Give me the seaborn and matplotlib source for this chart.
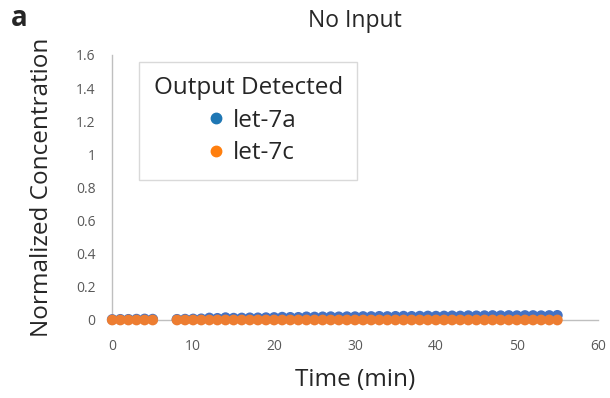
import matplotlib
matplotlib.use("Agg")
import matplotlib.pyplot as plt
from matplotlib.lines import Line2D
import seaborn as sns
import pandas as pd

time_min = [0, 1, 2, 3, 4, 5] + list(range(8, 56))
let7a = [0.003, 0.004, 0.004, 0.005, 0.006, 0.005,
         0.004, 0.005, 0.006, 0.007, 0.012, 0.010, 0.014, 0.011, 0.012, 0.013,
         0.013, 0.014, 0.015, 0.017, 0.016, 0.016, 0.019, 0.018, 0.019, 0.020,
         0.019, 0.020, 0.020, 0.021, 0.021, 0.022, 0.021, 0.022, 0.023, 0.022,
         0.023, 0.024, 0.023, 0.024, 0.025, 0.024, 0.026, 0.025, 0.026, 0.027,
         0.026, 0.027, 0.026, 0.027, 0.027, 0.026, 0.027, 0.028]
let7c = [0.0] * len(time_min)

series_names = ["let-7a", "let-7c"]
point_colors = ["#4472C4", "#ED7D31"]
legend_colors = ["#1f77b4", "#ff7f0e"]
x_ticks = [0, 10, 20, 30, 40, 50, 60]
y_ticks = [0, 0.2, 0.4, 0.6, 0.8, 1, 1.2, 1.4, 1.6]

df = pd.DataFrame({
    "Time": time_min * 2,
    "Value": let7a + let7c,
    "Series": [series_names[0]] * len(time_min) + [series_names[1]] * len(time_min),
})

sns.set_style("white")
plt.rcParams["font.family"] = ["Open Sans", "DejaVu Sans"]

fig = plt.figure(figsize=(6.10, 3.98), dpi=100)
ax = fig.add_axes([0.184, 0.196, 0.796, 0.666])

sns.scatterplot(data=df, x="Time", y="Value", hue="Series", palette=point_colors,
                s=60, linewidth=0, ax=ax, legend=False, zorder=3)

ax.set_xlim(0, 60)
ax.set_ylim(0, 1.6)
ax.set_xticks(x_ticks)
ax.set_yticks(y_ticks)
ax.set_xticklabels([str(t) for t in x_ticks], fontsize=10, color="#595959")
ax.set_yticklabels([("%g" % t) for t in y_ticks], fontsize=10, color="#595959")
ax.tick_params(axis="x", length=0, pad=14)
ax.tick_params(axis="y", length=0, pad=12)
for s in ["top", "right"]:
    ax.spines[s].set_visible(False)
for s in ["left", "bottom"]:
    ax.spines[s].set_color("#BFBFBF")
    ax.spines[s].set_linewidth(1.0)
for c in ax.collections:
    c.set_clip_on(False)

ax.set_xlabel("Time (min)", fontsize=17.5, labelpad=10)
ax.set_ylabel("Normalized Concentration", fontsize=17.5, labelpad=16)
ax.set_title("No Input", fontsize=16.5, pad=20)

handles = [Line2D([], [], marker="o", linestyle="", markersize=7.5,
                  markerfacecolor=c, markeredgecolor=c) for c in legend_colors]
leg = ax.legend(handles, series_names, title="Output Detected", loc="upper left",
                bbox_to_anchor=(0.03, 1.02), fontsize=17.5, title_fontsize=17.5,
                frameon=True, fancybox=False, handletextpad=0.0, borderpad=0.6,
                labelspacing=0.35, handlelength=1.4)
leg.get_frame().set_edgecolor("#D0D0D0")
leg.get_frame().set_linewidth(1.0)

fig.text(0.018, 0.935, "a", fontsize=20, fontweight="bold")

fig.savefig("out.png", dpi=100)
